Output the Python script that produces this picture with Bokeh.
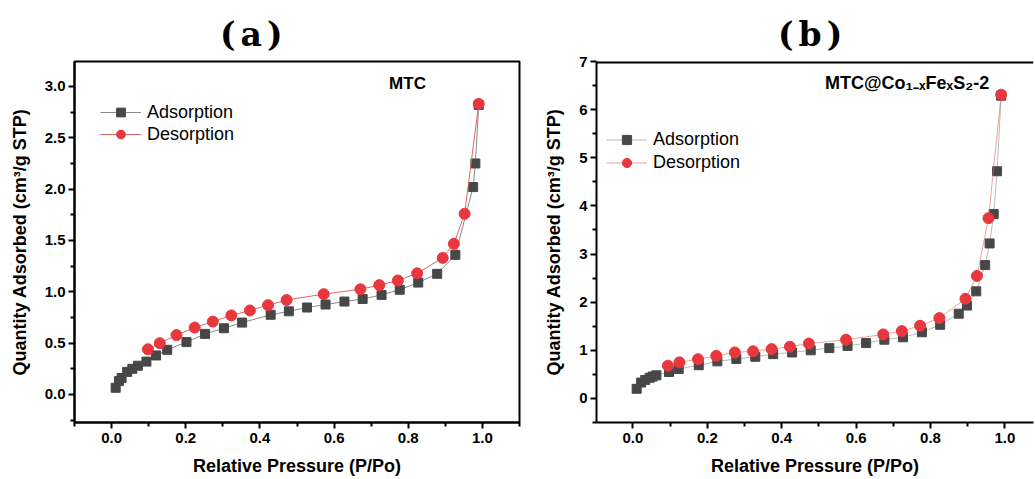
from bokeh.plotting import figure
from bokeh.layouts import row, column
from bokeh.models import (Legend, LegendItem, Label, FixedTicker, Span, Div,
                          NumeralTickFormatter, Range1d)
from bokeh.embed import file_html
from bokeh.resources import INLINE

# ---------------- data ----------------
a_ads_x = [0.011, 0.020, 0.027, 0.042, 0.056, 0.071, 0.094, 0.120, 0.150, 0.202,
           0.252, 0.303, 0.352, 0.429, 0.478, 0.527, 0.577, 0.628, 0.677, 0.728,
           0.777, 0.827, 0.878, 0.927, 0.975, 0.981, 0.990]
a_ads_y = [0.065, 0.13, 0.16, 0.22, 0.25, 0.28, 0.32, 0.38, 0.435, 0.51,
           0.59, 0.645, 0.70, 0.776, 0.81, 0.847, 0.876, 0.905, 0.93, 0.97,
           1.02, 1.09, 1.175, 1.36, 2.02, 2.25, 2.82]
a_des_x = [0.098, 0.130, 0.175, 0.224, 0.273, 0.323, 0.373, 0.422, 0.472, 0.572,
           0.671, 0.722, 0.772, 0.824, 0.893, 0.923, 0.952, 0.990]
a_des_y = [0.44, 0.50, 0.578, 0.652, 0.71, 0.77, 0.818, 0.87, 0.92, 0.977,
           1.025, 1.065, 1.11, 1.18, 1.33, 1.467, 1.76, 2.83]

b_ads_x = [0.010, 0.022, 0.033, 0.045, 0.053, 0.063, 0.097, 0.123, 0.177, 0.227,
           0.278, 0.329, 0.377, 0.428, 0.478, 0.528, 0.577, 0.627, 0.676, 0.726,
           0.777, 0.826, 0.876, 0.898, 0.923, 0.947, 0.959, 0.970, 0.979, 0.990]
b_ads_y = [0.20, 0.33, 0.385, 0.43, 0.455, 0.48, 0.55, 0.61, 0.69, 0.77,
           0.82, 0.865, 0.92, 0.955, 1.0, 1.045, 1.09, 1.15, 1.22, 1.27,
           1.375, 1.53, 1.76, 1.93, 2.225, 2.77, 3.22, 3.83, 4.72, 6.29]
b_des_x = [0.094, 0.125, 0.175, 0.224, 0.274, 0.323, 0.373, 0.422, 0.473, 0.573,
           0.673, 0.723, 0.772, 0.824, 0.894, 0.925, 0.956, 0.990]
b_des_y = [0.68, 0.75, 0.815, 0.885, 0.955, 0.98, 1.025, 1.075, 1.14, 1.22,
           1.33, 1.40, 1.51, 1.67, 2.07, 2.545, 3.745, 6.31]

x_ticks = [0.0, 0.2, 0.4, 0.6, 0.8, 1.0]
x_minor = [-0.1, 0.1, 0.3, 0.5, 0.7, 0.9, 1.1]
a_y_ticks = [0.0, 0.5, 1.0, 1.5, 2.0, 2.5, 3.0]
a_y_minor = [-0.25, 0.25, 0.75, 1.25, 1.75, 2.25, 2.75, 3.25]
b_y_ticks = [0, 1, 2, 3, 4, 5, 6, 7]
b_y_minor = [-0.5, 0.5, 1.5, 2.5, 3.5, 4.5, 5.5, 6.5]

series_names = ["Adsorption", "Desorption"]
panel_titles = ["(a)", "(b)"]
sample_names = ["MTC", "MTC@Co\u2081\u208b\u2093Fe\u2093S\u2082-2"]
x_label = "Relative Pressure (P/Po)"
y_label = "Quantity Adsorbed (cm\u00b3/g STP)"

SANS = "Liberation Sans"
ADS_MARK = "#474747"
ADS_LINE = "#8a8a8a"
DES_MARK = "#e8383d"
DES_LINE = "#e06666"
HEAD_H = 50


def heading(text, width, pad_left):
    html = ('<div style="padding-top:20px;padding-left:%dpx;'
            'font-family:\'DejaVu Serif\';font-weight:bold;font-size:33px;'
            'letter-spacing:5px;line-height:30px;color:black;'
            'white-space:nowrap;">%s</div>' % (pad_left, text))
    return Div(text=html, width=width, height=HEAD_H, margin=0)


def make_panel(xr, yr, yticks, yminor, yfmt,
               ax, ay, dx, dy, width, bl, br, legend_loc, row_h, line_alpha,
               sample, sx, sy, sample_size, open_right):
    p = figure(width=width, height=479 - HEAD_H, output_backend="svg",
               toolbar_location=None, margin=0,
               x_range=Range1d(*xr), y_range=Range1d(*yr),
               min_border_left=bl, min_border_right=br,
               min_border_top=61 - HEAD_H, min_border_bottom=57)
    p.xgrid.visible = False
    p.ygrid.visible = False
    p.background_fill_color = "white"
    p.border_fill_color = "white"
    if open_right:
        # frame is cut at the picture edge: only a top line, no right edge
        p.outline_line_alpha = 0
        p.add_layout(Span(location=yr[1], dimension="width",
                          line_color="black", line_width=4))
    else:
        p.outline_line_color = "black"
        p.outline_line_width = 2
        p.outline_line_alpha = 1

    xa = p.below[0]
    ya = p.left[0]
    xa.ticker = FixedTicker(ticks=x_ticks, minor_ticks=x_minor)
    ya.ticker = FixedTicker(ticks=yticks, minor_ticks=yminor)
    xa.formatter = NumeralTickFormatter(format="0.0")
    ya.formatter = NumeralTickFormatter(format=yfmt)
    for axis in (xa, ya):
        axis.axis_line_width = 2
        axis.major_tick_line_width = 2
        axis.minor_tick_line_width = 2
        axis.major_tick_in = 0
        axis.major_tick_out = 6
        axis.minor_tick_in = 0
        axis.minor_tick_out = 4
        axis.major_label_text_font = SANS
        axis.major_label_text_font_style = "bold"
        axis.major_label_text_font_size = "15px"
        axis.major_label_text_color = "black"
        axis.axis_label_text_font = SANS
        axis.axis_label_text_font_style = "bold"
        axis.axis_label_text_font_size = "18px"
        axis.axis_label_text_color = "black"
    xa.axis_label = x_label
    ya.axis_label = y_label
    xa.major_label_standoff = 4
    ya.major_label_standoff = 3
    xa.axis_label_standoff = 10
    ya.axis_label_standoff = 12

    l1 = p.line(ax, ay, line_color=ADS_LINE, line_width=1, line_alpha=line_alpha)
    s1 = p.scatter(ax, ay, marker="square", size=9, fill_color=ADS_MARK,
                   line_color=ADS_MARK)
    l2 = p.line(dx, dy, line_color=DES_LINE, line_width=1, line_alpha=line_alpha)
    s2 = p.scatter(dx, dy, marker="circle", size=11, fill_color=DES_MARK,
                   line_color=DES_MARK)

    leg = Legend(items=[LegendItem(label=series_names[0], renderers=[l1, s1]),
                        LegendItem(label=series_names[1], renderers=[l2, s2])],
                 location=legend_loc, glyph_width=41, glyph_height=row_h,
                 label_height=row_h, label_standoff=6, spacing=0, padding=0,
                 margin=0, border_line_alpha=0, background_fill_alpha=0,
                 label_text_font=SANS, label_text_font_size="18px",
                 label_text_color="black")
    p.add_layout(leg)

    p.add_layout(Label(x=sx, y=sy, text=sample, text_font=SANS,
                       text_font_size=sample_size, text_font_style="bold",
                       text_align="center", text_baseline="middle",
                       text_color="black"))
    return p


pa = make_panel((-0.1, 1.1), (-0.273, 3.243),
                a_y_ticks, a_y_minor, "0.0",
                a_ads_x, a_ads_y, a_des_x, a_des_y,
                width=522, bl=74, br=3, legend_loc=(26, 277), row_h=22,
                line_alpha=1.0, sample=sample_names[0], sx=0.798, sy=3.03,
                sample_size="17px", open_right=False)
pb = make_panel((-0.098, 1.077), (-0.5, 7.0),
                b_y_ticks, b_y_minor, "0",
                b_ads_x, b_ads_y, b_des_x, b_des_y,
                width=512, bl=74, br=1, legend_loc=(10, 248), row_h=23,
                line_alpha=0.6, sample=sample_names[1], sx=0.737, sy=6.56,
                sample_size="18px", open_right=True)

ha = heading(panel_titles[0], 522, 220)
hb = heading(panel_titles[1], 512, 256)

layout = column(row(ha, hb, spacing=0), row(pa, pb, spacing=0), spacing=0)
open("out.html", "w").write(file_html(layout, INLINE))
